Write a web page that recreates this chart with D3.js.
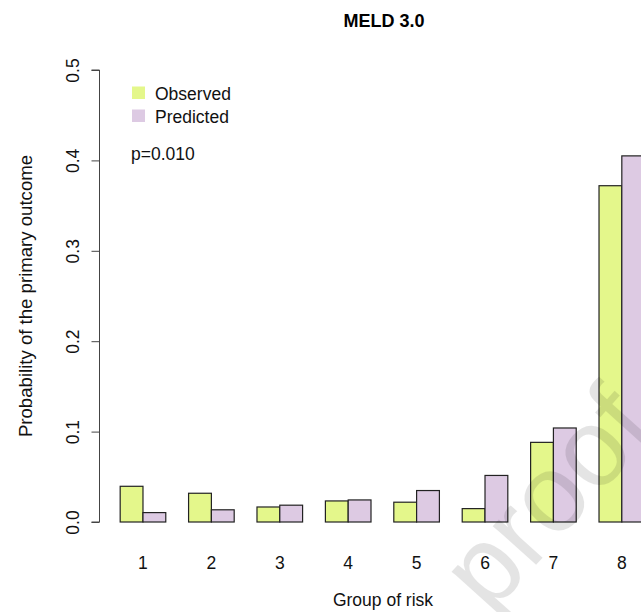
<!DOCTYPE html>
<html>
<head>
<meta charset="utf-8">
<script src="https://cdn.jsdelivr.net/npm/d3@7"></script>
<style>
  body { margin: 0; background: white; }
  text { font-family: "Liberation Sans", Arial, sans-serif; }
</style>
</head>
<body>
<script>
// data
var groups = ["1", "2", "3", "4", "5", "6", "7", "8"];
var observed  = [0.0395, 0.0318, 0.0166, 0.0233, 0.0219, 0.0148, 0.0881, 0.372];
var predicted = [0.0104, 0.0135, 0.0186, 0.0244, 0.0348, 0.0515, 0.1040, 0.405];
var yTicks = [0, 0.1, 0.2, 0.3, 0.4, 0.5];
var seriesNames = ["Observed", "Predicted"];
var seriesColors = ["#e4f78b", "#ddcae3"];

var width = 641, height = 612;
var fs = "17.5px";

var svg = d3.select("body")
  .append("svg")
    .attr("width", width)
    .attr("height", height)
    .style("background-color", "white");

// R barplot style: bars of width 1, groups separated by a gap of 1
var x = d3.scaleLinear()
  .domain([0.08, 24.92])
  .range([99.2, 665.6]);

var y = d3.scaleLinear()
  .domain([0, 0.5])
  .range([522, 70]);

// bars
var series = [observed, predicted];
series.forEach(function(vals, j) {
  svg.append("g")
    .selectAll("rect")
    .data(vals)
    .enter()
    .append("rect")
      .attr("x", function(d, i) { return x(3 * i + 1 + j); })
      .attr("y", function(d) { return y(d); })
      .attr("width", x(2) - x(1))
      .attr("height", function(d) { return y(0) - y(d); })
      .attr("fill", seriesColors[j])
      .attr("stroke", "#222")
      .attr("stroke-width", 1.2);
});

// y axis
var yAxis = svg.append("g")
  .attr("transform", "translate(99.5,0)")
  .call(d3.axisLeft(y).tickValues(yTicks).tickSize(8).tickPadding(0)
        .tickFormat(d3.format(".1f")));
yAxis.select(".domain").attr("stroke", "#444").attr("d", "M-8," + y(0) + "H0V" + y(0.5) + "H-8");
yAxis.selectAll(".tick line").attr("stroke", "#444");
yAxis.selectAll(".tick text")
  .attr("x", 0).attr("dy", 0)
  .attr("transform", "translate(-21,0) rotate(-90)")
  .attr("text-anchor", "middle")
  .style("font-size", fs)
  .style("fill", "#111");

// group labels under the bars
svg.append("g")
  .selectAll("text")
  .data(groups)
  .enter()
  .append("text")
    .attr("x", function(d, i) { return x(3 * i + 2); })
    .attr("y", 569)
    .attr("text-anchor", "middle")
    .style("font-size", fs)
    .style("fill", "#111")
    .text(function(d) { return d; });

// title and axis titles
svg.append("text")
  .attr("x", 384).attr("y", 27)
  .attr("text-anchor", "middle")
  .style("font-size", "18px")
  .style("font-weight", "bold")
  .text("MELD 3.0");

svg.append("text")
  .attr("x", 383).attr("y", 606)
  .attr("text-anchor", "middle")
  .style("font-size", fs)
  .style("fill", "#111")
  .text("Group of risk");

svg.append("text")
  .attr("transform", "translate(32,296) rotate(-90)")
  .attr("text-anchor", "middle")
  .style("font-size", "18.6px")
  .style("fill", "#111")
  .text("Probability of the primary outcome");

// legend
var legend = svg.append("g")
  .selectAll("g")
  .data(seriesNames)
  .enter()
  .append("g")
    .attr("transform", function(d, i) { return "translate(132," + (86.5 + i * 23) + ")"; });
legend.append("rect")
  .attr("width", 13).attr("height", 12.5)
  .attr("fill", function(d, i) { return seriesColors[i]; });
legend.append("text")
  .attr("x", 23).attr("y", 13)
  .style("font-size", fs)
  .style("fill", "#111")
  .text(function(d) { return d; });

svg.append("text")
  .attr("x", 131).attr("y", 160)
  .style("font-size", fs)
  .style("fill", "#111")
  .text("p=0.010");

// watermark
svg.append("text")
  .attr("transform", "translate(490,616) rotate(-48)")
  .style("font-size", "110px")
  .style("fill", "#000")
  .style("opacity", 0.1)
  .text("proof");
</script>
</body>
</html>
